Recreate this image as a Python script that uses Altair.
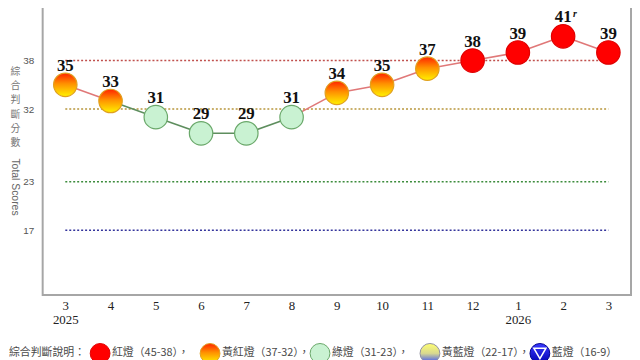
import altair as alt
import pandas as pd

# ---- data ----
months = ["3", "4", "5", "6", "7", "8", "9", "10", "11", "12", "1", "2", "3"]
years = ["2025", "", "", "", "", "", "", "", "", "", "2026", "", ""]
scores = [35, 33, 31, 29, 29, 31, 34, 35, 37, 38, 39, 41, 39]
notes = ["", "", "", "", "", "", "", "", "", "", "", "r", ""]

ref_values = [38, 32, 23, 17]
ref_colors = ["#c0504d", "#b8963c", "#3c8c3c", "#34349c"]

legend_title = "綜合判斷說明："
legend_labels = ["紅燈（45-38），", "黃紅燈（37-32），", "綠燈（31-23），", "黃藍燈（22-17），", "藍燈（16-9）"]
legend_types = ["red", "yellowred", "green", "yellowblue", "blue"]


def light(s):
    if s >= 38:
        return "red"
    if s >= 32:
        return "yellowred"
    if s >= 23:
        return "green"
    if s >= 17:
        return "yellowblue"
    return "blue"


idx = list(range(len(months)))
df = pd.DataFrame({"i": idx, "score": scores, "note": notes,
                   "label": [str(s) for s in scores]})
df["light"] = [light(s) for s in scores]

line_color = {"red": "#e07878", "yellowred": "#e07878", "green": "#5e8e5e",
              "yellowblue": "#8080c0", "blue": "#5050c0"}
seg_rows = []
for k in range(len(scores) - 1):
    c = line_color[light(scores[k + 1])]
    seg_rows.append({"seg": k, "i": idx[k], "score": scores[k], "c": c})
    seg_rows.append({"seg": k, "i": idx[k + 1], "score": scores[k + 1], "c": c})
seg_df = pd.DataFrame(seg_rows)

ref_df = pd.DataFrame({"score": ref_values, "c": ref_colors,
                       "i": [idx[0]] * 4, "i2": [idx[-1]] * 4})


def grad(stops):
    return alt.LinearGradient(
        gradient="linear", x1=0, y1=0, x2=0, y2=1,
        stops=[alt.GradientStop(color=c, offset=o) for o, c in stops])


fills = {
    "red": "#ff0000",
    "yellowred": grad([(0, "#ff2400"), (0.45, "#ff9000"), (1, "#fff200")]),
    "green": "#c9f2d2",
    "yellowblue": grad([(0, "#ffff70"), (0.5, "#d8d890"), (1, "#3048ff")]),
    "blue": grad([(0, "#3a3aff"), (1, "#0000b0")]),
}
strokes = {"red": "#e00000", "yellowred": "#e0a020", "green": "#6aa86a",
           "yellowblue": "#9090a0", "blue": "#000090"}

month_js = "[" + ",".join("'%s'" % m for m in months) + "]"
year_js = "[" + ",".join("'%s'" % y for y in years) + "]"

x_enc = alt.X(
    "i:Q",
    scale=alt.Scale(domain=[-0.5, len(months) - 0.5], nice=False, zero=False),
    axis=alt.Axis(values=idx, labelExpr=f"[{month_js}[datum.value], {year_js}[datum.value]]",
                  title=None, ticks=False, domain=False, grid=False, labelAngle=0,
                  labelFont="Liberation Serif", labelFontSize=13, labelColor="#222",
                  labelPadding=5, labelLineHeight=14, labelOverlap=False, labelFlush=False),
)
y_enc = alt.Y(
    "score:Q",
    scale=alt.Scale(domain=[9, 46.5], nice=False, zero=False),
    axis=alt.Axis(values=ref_values, ticks=False, domain=False, grid=False,
                  labelFont="Liberation Sans", labelFontSize=10, labelColor="#555",
                  labelPadding=9,
                  title=list("綜合判斷分數"), titleAngle=0, titleFont="Noto Sans CJK TC",
                  titleFontSize=10, titleFontWeight="normal", titleColor="#777",
                  titleLineHeight=14.5, titleX=-28, titleY=75, titleAlign="center",
                  titleBaseline="top"),
)

rules = alt.Chart(ref_df).mark_rule(strokeDash=[2, 2], strokeWidth=1.6).encode(
    x=x_enc, x2="i2:Q", y=y_enc, color=alt.Color("c:N", scale=None))

segs = alt.Chart(seg_df).mark_line(strokeWidth=1.6).encode(
    x=x_enc, y=y_enc, detail="seg:N", color=alt.Color("c:N", scale=None))

pts = []
for t in ["red", "yellowred", "green"]:
    pts.append(alt.Chart(df).transform_filter(alt.datum.light == t).mark_point(
        shape="circle", filled=True, size=560, opacity=1, fill=fills[t],
        stroke=strokes[t], strokeWidth=1.2).encode(x=x_enc, y=y_enc))

labels = alt.Chart(df).mark_text(
    font="Liberation Serif", fontSize=17, fontWeight="bold", color="#111",
    baseline="alphabetic", dy=-14).encode(x=x_enc, y=y_enc, text="label:N")

note_txt = alt.Chart(df).mark_text(
    font="Liberation Serif", fontSize=10, fontStyle="italic", fontWeight="bold",
    color="#111", baseline="alphabetic", dx=12, dy=-20).encode(x=x_enc, y=y_enc, text="note:N")

ytitle2 = alt.Chart(pd.DataFrame({"t": ["Total Scores"]})).mark_text(
    angle=90, font="Liberation Sans", fontSize=10.5, color="#666",
    align="center", baseline="middle").encode(
    x=alt.value(-28), y=alt.value(197), text="t:N")

main = alt.layer(rules, segs, *pts, labels, note_txt, ytitle2).properties(
    width=594, height=306,
    view=alt.ViewBackground(stroke="#a6a6a6", strokeWidth=2))

# ---- legend row ----
n = len(legend_labels)
step = 111
d0 = -(100 - 42) / step
d1 = d0 + 594 / step
leg_df = pd.DataFrame({"k": list(range(n)), "lab": legend_labels, "t": legend_types})
lx = alt.X("k:Q", scale=alt.Scale(domain=[d0, d1], nice=False, zero=False), axis=None)

leg_layers = []
for t in legend_types:
    leg_layers.append(alt.Chart(leg_df).transform_filter(alt.datum.t == t).mark_point(
        shape="circle", filled=True, size=400, opacity=1, fill=fills[t],
        stroke=strokes[t], strokeWidth=1).encode(x=lx))
leg_layers.append(alt.Chart(leg_df).transform_filter(alt.datum.t == "blue").mark_point(
    shape="triangle-down", filled=False, size=150, stroke="white", strokeWidth=1.5,
    opacity=1).encode(x=lx))
leg_layers.append(alt.Chart(leg_df).mark_text(
    align="left", dx=12, font="Noto Sans CJK TC", fontSize=11, color="#4a4a4a").encode(
    x=lx, text="lab:N"))
leg_layers.append(alt.Chart(pd.DataFrame({"t": [legend_title]})).mark_text(
    align="left", font="Noto Sans CJK TC", fontSize=11, color="#4a4a4a").encode(
    x=alt.value(-34), text="t:N"))

legend = alt.layer(*leg_layers).properties(
    width=594, height=20, view=alt.ViewBackground(stroke=None))

chart = alt.vconcat(main, legend, spacing=14).properties(
    padding={"left": 0, "top": -19, "right": 0, "bottom": 0}
).configure_view(stroke=None)

chart.save("out.html", embed_options={"renderer": "svg", "actions": False})
